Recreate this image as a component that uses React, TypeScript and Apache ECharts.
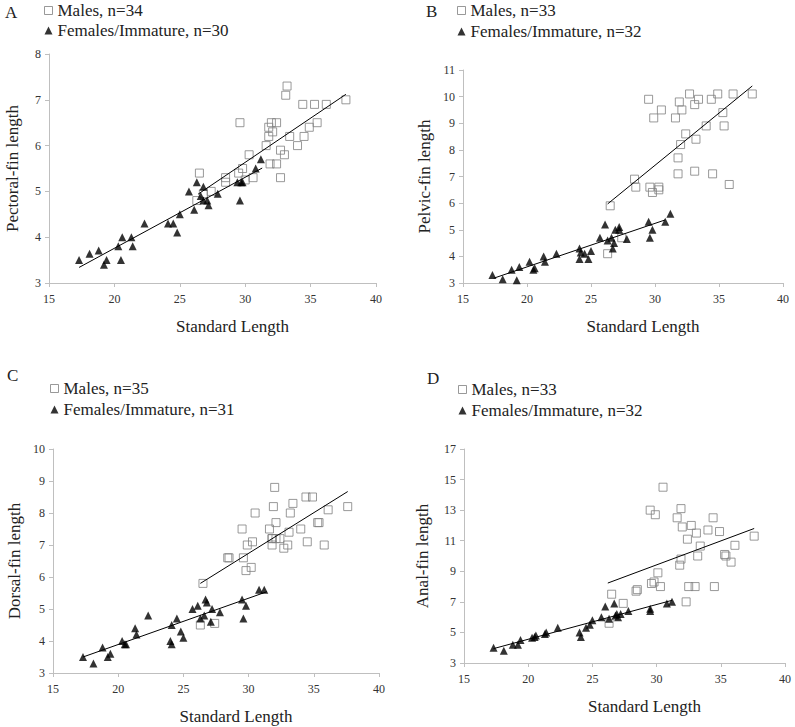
import { useEffect, useRef } from 'react';
import * as echarts from 'echarts';

const FONT = 'Liberation Serif';

// Panel letters, axis titles, legend labels
const panelLetters = ['A', 'B', 'C', 'D'];
const yTitles = ['Pectoral-fin length', 'Pelvic-fin length', 'Dorsal-fin length', 'Anal-fin length'];
const xTitle = 'Standard Length';
const maleLabels = ['Males, n=34', 'Males, n=33', 'Males, n=35', 'Males, n=33'];
const femaleLabels = ['Females/Immature, n=30', 'Females/Immature, n=32', 'Females/Immature, n=31', 'Females/Immature, n=32'];

// Axis ranges
const xRange = [15, 40, 5];
const yRanges = [
  [3, 8, 1],
  [3, 11, 1],
  [3, 10, 1],
  [3, 17, 2],
];

// Panel A: pectoral fin
const aMaleSL = [26.5, 26.3, 26.8, 27.4, 28.5, 28.5, 29.6, 29.5, 29.8, 30.0, 30.3, 30.6, 31.6, 31.8, 31.8, 32.0, 31.9, 32.1, 32.4, 32.4, 32.7, 32.7, 33.0, 33.1, 33.2, 33.4, 34.0, 34.4, 34.5, 34.9, 35.3, 35.5, 36.2, 37.7];
const aMaleFin = [5.4, 4.8, 4.95, 5.0, 5.3, 5.2, 6.5, 5.4, 5.5, 5.25, 5.8, 5.3, 6.0, 6.2, 6.4, 6.5, 5.6, 6.3, 6.5, 5.6, 5.3, 5.9, 5.8, 7.1, 7.3, 6.2, 6.0, 6.9, 6.2, 6.4, 6.9, 6.5, 6.9, 7.0];
const aFemSL = [17.3, 18.1, 18.8, 19.2, 19.4, 20.3, 20.6, 20.5, 21.3, 21.4, 22.3, 24.1, 24.5, 24.8, 25.0, 25.7, 26.1, 26.3, 26.6, 26.8, 26.8, 27.1, 27.2, 27.9, 29.4, 29.6, 29.7, 29.8, 30.8, 31.2];
const aFemFin = [3.5, 3.64, 3.71, 3.4, 3.5, 3.8, 4.0, 3.5, 4.0, 3.8, 4.3, 4.3, 4.3, 4.1, 4.5, 5.0, 4.6, 5.2, 4.9, 5.1, 4.8, 4.8, 4.7, 4.95, 5.2, 4.8, 5.2, 5.2, 5.5, 5.7];
const aMaleFit = [[26.4, 4.94], [37.7, 7.12]];
const aFemFit = [[17.3, 3.34], [31.3, 5.51]];

// Panel B: pelvic fin
const bMaleSL = [26.5, 26.3, 27.4, 28.4, 28.5, 29.5, 29.6, 29.8, 29.9, 30.3, 30.3, 30.5, 31.6, 31.8, 31.8, 31.9, 32.0, 32.1, 32.4, 32.7, 33.1, 33.1, 33.2, 33.4, 34.0, 34.4, 34.5, 34.9, 35.3, 35.4, 35.8, 36.1, 37.6];
const bMaleFin = [5.9, 4.1, 4.7, 6.9, 6.6, 9.9, 6.6, 6.4, 9.2, 6.5, 6.6, 9.5, 9.2, 7.7, 7.1, 9.8, 8.2, 9.5, 8.6, 10.1, 7.2, 9.7, 8.4, 9.9, 8.9, 9.9, 7.1, 10.1, 9.4, 8.9, 6.7, 10.1, 10.1];
const bFemSL = [17.3, 18.1, 18.8, 19.2, 19.4, 20.2, 20.5, 20.6, 21.3, 21.4, 22.3, 24.1, 24.1, 24.2, 24.5, 24.8, 25.0, 25.7, 26.1, 26.3, 26.6, 26.7, 26.8, 26.9, 27.2, 27.2, 27.8, 29.5, 29.6, 29.8, 30.8, 31.2];
const bFemFin = [3.3, 3.14, 3.5, 3.1, 3.6, 3.8, 3.5, 3.55, 4.0, 3.8, 4.1, 4.3, 3.9, 4.15, 4.1, 3.9, 4.2, 4.7, 5.2, 4.6, 4.7, 4.3, 4.5, 5.0, 5.1, 5.0, 4.65, 5.3, 4.7, 5.0, 5.3, 5.6];
const bMaleFit = [[26.3, 5.97], [37.6, 10.4]];
const bFemFit = [[17.4, 3.18], [30.8, 5.37]];

// Panel C: dorsal fin
const cMaleSL = [26.5, 26.3, 27.4, 28.4, 28.5, 29.5, 29.6, 29.8, 29.9, 30.3, 30.2, 30.5, 31.6, 31.8, 31.8, 31.8, 31.9, 32.0, 32.1, 32.1, 32.4, 32.7, 33.0, 33.1, 33.2, 33.4, 34.0, 34.4, 34.5, 34.9, 35.3, 35.4, 35.8, 36.1, 37.6];
const cMaleFin = [5.8, 4.5, 4.55, 6.6, 6.6, 7.5, 6.6, 6.2, 7.0, 7.1, 6.3, 8.0, 7.5, 7.2, 7.0, 7.2, 8.2, 8.8, 7.7, 7.2, 7.2, 6.9, 7.0, 7.4, 8.0, 8.3, 7.5, 8.5, 7.1, 8.5, 7.7, 7.7, 7.0, 8.1, 8.2];
const cFemSL = [17.3, 18.1, 18.8, 19.2, 19.4, 20.3, 20.5, 20.6, 21.3, 21.4, 22.3, 24.0, 24.1, 24.1, 24.5, 24.8, 25.0, 25.7, 26.1, 26.3, 26.7, 26.8, 26.6, 27.1, 27.2, 27.8, 29.5, 29.6, 29.8, 30.8, 31.2];
const cFemFin = [3.5, 3.3, 3.8, 3.5, 3.6, 4.0, 3.9, 3.9, 4.4, 4.2, 4.8, 4.0, 3.9, 4.5, 4.7, 4.3, 4.1, 5.0, 5.1, 4.7, 5.3, 5.2, 4.8, 4.6, 5.0, 4.9, 5.3, 4.7, 5.1, 5.6, 5.6];
const cMaleFit = [[26.3, 5.8], [37.6, 8.67]];
const cFemFit = [[17.3, 3.5], [31.4, 5.54]];

// Panel D: anal fin
const dMaleSL = [26.5, 26.3, 27.4, 28.4, 28.5, 29.5, 29.6, 29.8, 29.9, 30.1, 30.3, 30.5, 31.6, 31.8, 31.9, 31.9, 32.0, 32.3, 32.4, 32.5, 32.7, 33.0, 33.1, 33.2, 33.4, 34.0, 34.4, 34.5, 34.9, 35.3, 35.4, 35.8, 36.1, 37.6];
const dMaleFin = [7.5, 5.6, 6.9, 7.7, 7.8, 13.0, 8.2, 8.3, 12.7, 8.9, 8.0, 14.5, 12.5, 9.4, 9.8, 13.1, 11.9, 7.0, 11.1, 8.0, 12.0, 8.0, 11.5, 10.0, 10.65, 11.7, 12.5, 8.0, 11.6, 10.1, 10.0, 9.6, 10.7, 11.3];
const dFemSL = [17.3, 18.1, 18.8, 19.2, 19.4, 20.3, 20.5, 20.6, 21.3, 21.4, 22.3, 24.0, 24.1, 24.5, 24.8, 25.0, 25.7, 26.0, 26.3, 26.7, 26.8, 26.9, 27.0, 27.2, 27.8, 29.5, 29.5, 30.8, 31.2];
const dFemFin = [4.0, 3.8, 4.2, 4.2, 4.5, 4.65, 4.7, 4.8, 4.9, 5.0, 5.3, 5.0, 4.7, 5.3, 5.5, 5.8, 6.0, 6.7, 5.9, 6.9, 6.1, 6.2, 6.0, 6.2, 6.4, 6.4, 6.55, 6.9, 7.0];
const dMaleFit = [[26.2, 8.23], [37.6, 11.8]];
const dFemFit = [[17.3, 3.94], [31.2, 7.1]];

const maleSL = [aMaleSL, bMaleSL, cMaleSL, dMaleSL];
const maleFin = [aMaleFin, bMaleFin, cMaleFin, dMaleFin];
const femSL = [aFemSL, bFemSL, cFemSL, dFemSL];
const femFin = [aFemFin, bFemFin, cFemFin, dFemFin];
const maleFits = [aMaleFit, bMaleFit, cMaleFit, dMaleFit];
const femFits = [aFemFit, bFemFit, cFemFit, dFemFit];

// Layout (pixels)
const grids = [
  { left: 49, top: 54, width: 327, height: 229 },
  { left: 463, top: 70, width: 320, height: 213 },
  { left: 53, top: 449, width: 326, height: 224 },
  { left: 464, top: 449, width: 321, height: 214 },
];
const yNameGaps = [28, 30, 30, 33];
const legendPos = [
  { left: 44, top: 2, gap: 3 },
  { left: 457, top: 2, gap: 4 },
  { left: 50, top: 380, gap: 4 },
  { left: 458, top: 381, gap: 4 },
];
const letterPos = [
  { x: 5, y: 13 },
  { x: 426, y: 12 },
  { x: 7, y: 376 },
  { x: 427, y: 379 },
];

const zip = (xs: number[], ys: number[]) => xs.map((x, i) => [x, ys[i]]);

const axisGrey = '#bfbfbf';

function buildOption() {
  const series: any[] = [];
  panelLetters.forEach((_, i) => {
    series.push({
      type: 'scatter',
      name: maleLabels[i],
      xAxisIndex: i,
      yAxisIndex: i,
      symbol: 'rect',
      symbolSize: 8,
      itemStyle: { color: 'rgba(255,255,255,0)', borderColor: '#808080', borderWidth: 1 },
      data: zip(maleSL[i], maleFin[i]),
      z: 2,
    });
    series.push({
      type: 'scatter',
      name: femaleLabels[i],
      xAxisIndex: i,
      yAxisIndex: i,
      symbol: 'triangle',
      symbolSize: 8,
      itemStyle: { color: '#000' },
      data: zip(femSL[i], femFin[i]),
      z: 3,
    });
    series.push({
      type: 'line',
      xAxisIndex: i,
      yAxisIndex: i,
      symbol: 'none',
      silent: true,
      lineStyle: { color: '#000', width: 1 },
      data: maleFits[i],
      z: 4,
    });
    series.push({
      type: 'line',
      xAxisIndex: i,
      yAxisIndex: i,
      symbol: 'none',
      silent: true,
      lineStyle: { color: '#000', width: 1 },
      data: femFits[i],
      z: 4,
    });
  });

  return {
    animation: false,
    backgroundColor: '#fff',
    textStyle: { fontFamily: FONT },
    grid: grids.map((g) => ({ ...g, containLabel: false })),
    xAxis: grids.map((_, i) => ({
      type: 'value',
      gridIndex: i,
      min: xRange[0],
      max: xRange[1],
      interval: xRange[2],
      name: xTitle,
      nameLocation: 'middle',
      nameGap: 35,
      nameTextStyle: { fontFamily: FONT, fontSize: 17, color: '#222', padding: [0, 0, 0, 40] },
      axisLine: { show: true, onZero: false, lineStyle: { color: axisGrey } },
      axisTick: { show: true, inside: false, length: 4, lineStyle: { color: axisGrey } },
      axisLabel: { fontFamily: FONT, fontSize: 12, color: '#333', margin: 10 },
      splitLine: { show: false },
    })),
    yAxis: grids.map((_, i) => ({
      type: 'value',
      gridIndex: i,
      min: yRanges[i][0],
      max: yRanges[i][1],
      interval: yRanges[i][2],
      name: yTitles[i],
      nameLocation: 'middle',
      nameGap: yNameGaps[i],
      nameTextStyle: { fontFamily: FONT, fontSize: 17, color: '#222' },
      axisLine: { show: true, onZero: false, lineStyle: { color: axisGrey } },
      axisTick: { show: true, inside: false, length: 4, lineStyle: { color: axisGrey } },
      axisLabel: { fontFamily: FONT, fontSize: 12, color: '#333', margin: 8 },
      splitLine: { show: false },
    })),
    legend: legendPos.map((p, i) => ({
      left: p.left,
      top: p.top,
      padding: 0,
      orient: 'vertical',
      itemWidth: 8,
      itemHeight: 8,
      itemGap: p.gap,
      selectedMode: false,
      textStyle: { fontFamily: FONT, fontSize: 17, color: '#222' },
      data: [
        { name: maleLabels[i], icon: 'rect', itemStyle: { color: '#fff', borderColor: '#808080', borderWidth: 1 } },
        { name: femaleLabels[i], icon: 'triangle', itemStyle: { color: '#000' } },
      ],
    })),
    graphic: panelLetters.map((t, i) => ({
      type: 'text',
      left: letterPos[i].x,
      top: letterPos[i].y - 9,
      style: { text: t, fontFamily: FONT, fontSize: 17, fill: '#222' },
    })),
    series,
  };
}

export default function App() {
  const ref = useRef<HTMLDivElement>(null);
  useEffect(() => {
    if (!ref.current) return;
    const chart = echarts.init(ref.current, null, { renderer: 'svg' });
    chart.setOption(buildOption() as any);
    return () => chart.dispose();
  }, []);
  return (
    <div
      ref={ref}
      style={{ position: 'absolute', left: 0, top: 0, width: 795, height: 727, background: '#fff' }}
    />
  );
}
